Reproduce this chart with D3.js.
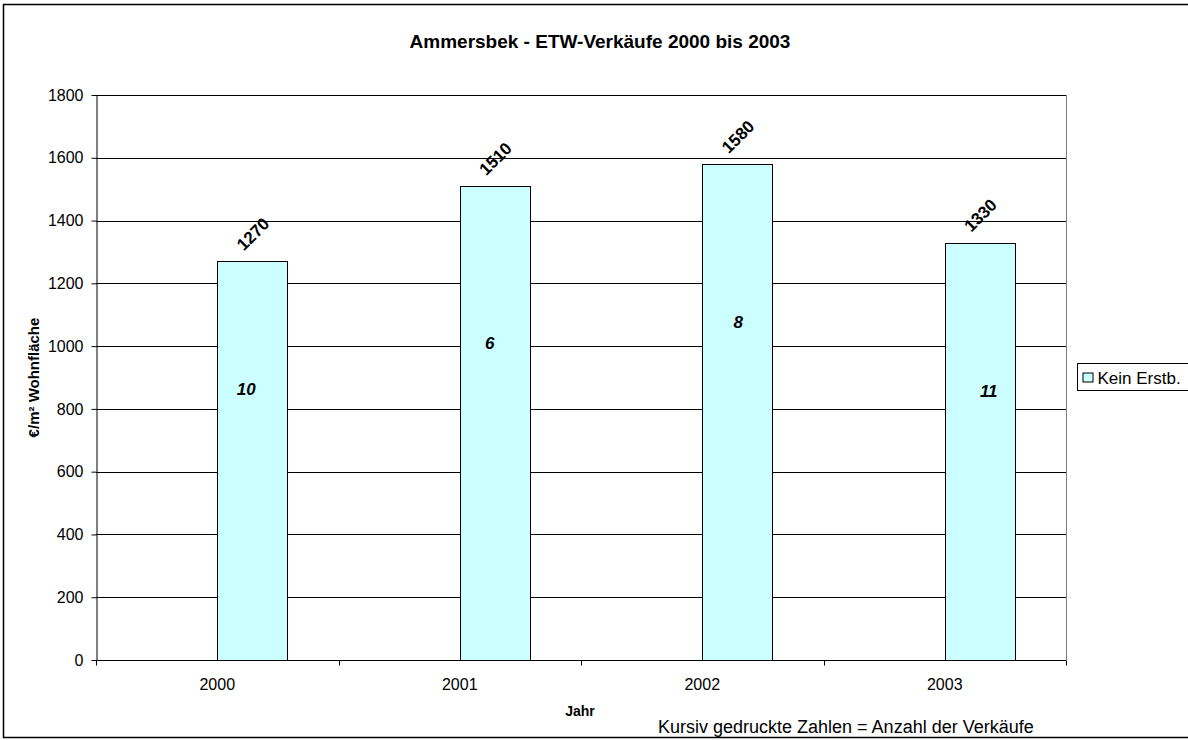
<!DOCTYPE html>
<html>
<head>
<meta charset="utf-8">
<script src="https://cdn.jsdelivr.net/npm/d3@7"></script>
<style>
  html, body { margin: 0; padding: 0; background: #fff; }
  svg { display: block; font-family: "Liberation Sans", Arial, sans-serif; }
</style>
</head>
<body>
<svg id="chart" width="1188" height="740"></svg>
<script>
// Average price per m² of living space for resale flats (no first occupancy)
const years = ["2000", "2001", "2002", "2003"];
const pricePerSqm = [1270, 1510, 1580, 1330];
// Number of sales per year (printed in italics inside the bars)
const salesCount = [10, 6, 8, 11];
// Vertical placement of the sales-count labels, in €/m²
const salesLabelLevel = [863, 1007, 1074, 854];
const yTicks = [0, 200, 400, 600, 800, 1000, 1200, 1400, 1600, 1800];
const seriesName = "Kein Erstb.";

const svg = d3.select("#chart");
const W = 1188, H = 740;
const FONT = "Liberation Sans, Arial, sans-serif";

// outer frame (runs past the right edge of the page)
svg.append("rect")
  .attr("x", 3.5).attr("y", 4.5).attr("width", W + 10).attr("height", 733)
  .attr("fill", "#fff").attr("stroke", "#000").attr("stroke-width", 1.5);

const plot = { left: 96, right: 1066, top: 95, bottom: 660 };

const x = d3.scaleBand().domain(years).range([plot.left, plot.right]).padding(0);
const y = d3.scaleLinear().domain([0, 1800]).range([plot.bottom, plot.top]);
const barW = 70;

const g = svg.append("g");

// horizontal gridlines
g.selectAll("line.grid").data(yTicks.filter(d => d > 0)).join("line")
  .attr("class", "grid")
  .attr("x1", plot.left).attr("x2", plot.right)
  .attr("y1", d => Math.round(y(d)) + 0.5).attr("y2", d => Math.round(y(d)) + 0.5)
  .attr("stroke", "#000").attr("stroke-width", 1);

// right border of plot area
g.append("line")
  .attr("x1", plot.right + 0.5).attr("x2", plot.right + 0.5)
  .attr("y1", plot.top).attr("y2", plot.bottom)
  .attr("stroke", "#808080");

// bars: start at the category centre (second slot of the cluster)
g.selectAll("rect.bar").data(years).join("rect")
  .attr("class", "bar")
  .attr("x", d => Math.round(x(d) + x.bandwidth() / 2) + 0.5)
  .attr("y", (d, i) => Math.round(y(pricePerSqm[i])) + 0.5)
  .attr("width", barW)
  .attr("height", (d, i) => Math.round(y(0)) - Math.round(y(pricePerSqm[i])))
  .attr("fill", "#CCFFFF").attr("stroke", "#000").attr("stroke-width", 1);

// y axis
const yAxis = d3.axisLeft(y).tickValues(yTicks).tickFormat(d3.format("d"))
  .tickSize(5).tickPadding(8).tickSizeOuter(0);
const ya = svg.append("g").attr("transform", `translate(${plot.left + 0.5},0)`).call(yAxis);
ya.select(".domain").attr("stroke", "#000");
ya.selectAll(".tick line").attr("stroke", "#000");
ya.selectAll(".tick text").attr("font-size", 16).attr("fill", "#000").attr("font-family", FONT);

// x axis: ticks at category boundaries, labels at centres
const xa = svg.append("g").attr("transform", `translate(0,${Math.round(plot.bottom) + 0.5})`);
xa.append("line").attr("x1", plot.left).attr("x2", plot.right).attr("stroke", "#000");
const bounds = years.map(d => x(d)).concat([x(years[years.length - 1]) + x.bandwidth()]);
xa.selectAll("line.tk").data(bounds).join("line")
  .attr("class", "tk")
  .attr("x1", d => Math.round(d) + 0.5).attr("x2", d => Math.round(d) + 0.5)
  .attr("y1", 0).attr("y2", 5).attr("stroke", "#000");
xa.selectAll("text").data(years).join("text")
  .attr("x", d => x(d) + x.bandwidth() / 2)
  .attr("y", 29)
  .attr("text-anchor", "middle")
  .attr("font-size", 16)
  .text(d => d);

// value labels, rotated
g.selectAll("text.val").data(years).join("text")
  .attr("class", "val")
  .attr("transform", (d, i) => {
    const cx = x(d) + x.bandwidth() / 2 + barW / 2 + 1;
    const cy = y(pricePerSqm[i]) - 27;
    return `translate(${cx},${cy}) rotate(-45)`;
  })
  .attr("text-anchor", "middle")
  .attr("dominant-baseline", "central")
  .attr("font-size", 17).attr("font-weight", "bold")
  .text((d, i) => pricePerSqm[i]);

// sales count labels
g.selectAll("text.cnt").data(years).join("text")
  .attr("class", "cnt")
  .attr("x", (d, i) => x(d) + x.bandwidth() / 2 + barW / 2 + [-6, -5, 1, 9][i])
  .attr("y", (d, i) => y(salesLabelLevel[i]))
  .attr("text-anchor", "middle")
  .attr("dominant-baseline", "central")
  .attr("font-size", 17).attr("font-weight", "bold").attr("font-style", "italic")
  .text((d, i) => salesCount[i]);

// title
svg.append("text")
  .attr("x", 600).attr("y", 48)
  .attr("text-anchor", "middle")
  .attr("font-size", 19).attr("font-weight", "bold")
  .text("Ammersbek - ETW-Verkäufe 2000 bis 2003");

// y axis title
svg.append("text")
  .attr("transform", `translate(39,${(plot.top + plot.bottom) / 2}) rotate(-90)`)
  .attr("text-anchor", "middle")
  .attr("font-size", 15).attr("font-weight", "bold")
  .text("€/m² Wohnfläche");

// x axis title
svg.append("text")
  .attr("x", 580).attr("y", 716)
  .attr("text-anchor", "middle")
  .attr("font-size", 14).attr("font-weight", "bold")
  .text("Jahr");

// footnote
svg.append("text")
  .attr("x", 658).attr("y", 733)
  .attr("font-size", 18)
  .text("Kursiv gedruckte Zahlen = Anzahl der Verkäufe");

// legend
const lg = svg.append("g").attr("transform", "translate(1077.5,363.5)");
lg.append("rect").attr("width", 112).attr("height", 27)
  .attr("fill", "#fff").attr("stroke", "#000");
lg.append("rect").attr("x", 5.5).attr("y", 9.5).attr("width", 10).attr("height", 9)
  .attr("fill", "#CCFFFF").attr("stroke", "#000");
lg.append("text").attr("x", 20).attr("y", 20)
  .attr("font-size", 17).text(seriesName);
</script>
</body>
</html>
